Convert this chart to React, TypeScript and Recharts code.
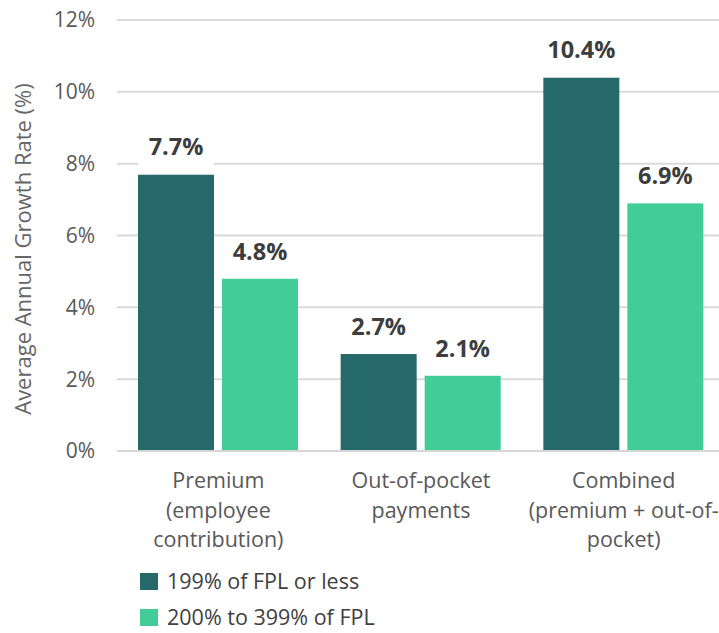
import { BarChart, Bar, XAxis, YAxis, CartesianGrid, Legend, LabelList, Label } from "recharts";

const categoryLines = [
  ["Premium", "(employee", "contribution)"],
  ["Out-of-pocket", "payments"],
  ["Combined", "(premium + out-of-", "pocket)"],
];
const lowIncome = [7.7, 2.7, 10.4];
const midIncome = [4.8, 2.1, 6.9];
const yTicks = [0, 2, 4, 6, 8, 10, 12];
const seriesNames = ["199% of FPL or less", "200% to 399% of FPL"];
const colors = ["#26696B", "#42CD98"];

const data = categoryLines.map((lines, i) => ({
  name: lines.join(" "),
  low: lowIncome[i],
  mid: midIncome[i],
}));

const FONT = "'Open Sans', Lato, sans-serif";

const CategoryTick = (props: any) => {
  const { x, y, index } = props;
  const lines = categoryLines[index] || [];
  return (
    <text x={x} y={y} textAnchor="middle" fill="#595959" fontSize={21.5} fontFamily={FONT}>
      {lines.map((l, i) => (
        <tspan key={i} x={x} dy={i === 0 ? 37 : 29.5}>
          {l}
        </tspan>
      ))}
    </text>
  );
};

const ValueLabel = (props: any) => {
  const { x, y, width, value } = props;
  return (
    <g>
      <rect x={x} y={y - 38} width={width} height={38} fill="#ffffff" />
      <text
        x={x + width / 2}
        y={y - 19}
        textAnchor="middle"
        fill="#3d3d3d"
        fontSize={23.5}
        fontWeight={700}
        fontFamily={FONT}
      >
        {value.toFixed(1)}%
      </text>
    </g>
  );
};

const LegendBox = () => (
  <div style={{ height: 78, boxSizing: "border-box", paddingTop: 14, fontFamily: FONT, fontSize: 21.5, color: "#404040" }}>
    {seriesNames.map((n, i) => (
      <div
        key={n}
        style={{ display: "flex", alignItems: "center", height: 24, lineHeight: "24px", marginBottom: i === 0 ? 12 : 0, paddingLeft: 140 }}
      >
        <span style={{ width: 18, height: 17, background: colors[i], display: "inline-block", marginRight: 9 }} />
        <span>{n}</span>
      </div>
    ))}
  </div>
);

export default function App() {
  return (
    <div style={{ position: "absolute", left: 0, top: 0, width: 719, height: 633, overflow: "hidden", background: "#fff" }}>
      <BarChart
        width={725}
        height={633}
        data={data}
        margin={{ top: 20, right: 0, bottom: 0, left: 0 }}
        barSize={76}
        barGap={8}
      >
        <CartesianGrid vertical={false} stroke="#dadada" strokeWidth={2} />
        <XAxis
          dataKey="name"
          axisLine={{ stroke: "#d6d6d6", strokeWidth: 2 }}
          tickLine={false}
          tickSize={0}
          tickMargin={0}
          height={104}
          interval={0}
          tick={<CategoryTick />}
        />
        <YAxis
          width={117}
          domain={[0, 12]}
          ticks={yTicks}
          axisLine={false}
          tickLine={false}
          tickSize={0}
          tickMargin={22}
          tickFormatter={(v: number) => `${v}%`}
          tick={{ fill: "#595959", fontSize: 21, fontFamily: FONT }}
        >
          <Label
            content={() => (
              <text
                x={22}
                y={249}
                transform="rotate(-90 22 249)"
                textAnchor="middle"
                dominantBaseline="central"
                fill="#666666"
                fontSize={22}
                fontFamily={FONT}
              >
                Average Annual Growth Rate (%)
              </text>
            )}
          />
        </YAxis>
        <Legend verticalAlign="bottom" align="left" wrapperStyle={{ left: 0 }} content={<LegendBox />} />
        <Bar dataKey="low" name={seriesNames[0]} fill={colors[0]} isAnimationActive={false}>
          <LabelList dataKey="low" content={<ValueLabel />} />
        </Bar>
        <Bar dataKey="mid" name={seriesNames[1]} fill={colors[1]} isAnimationActive={false}>
          <LabelList dataKey="mid" content={<ValueLabel />} />
        </Bar>
      </BarChart>
    </div>
  );
}
